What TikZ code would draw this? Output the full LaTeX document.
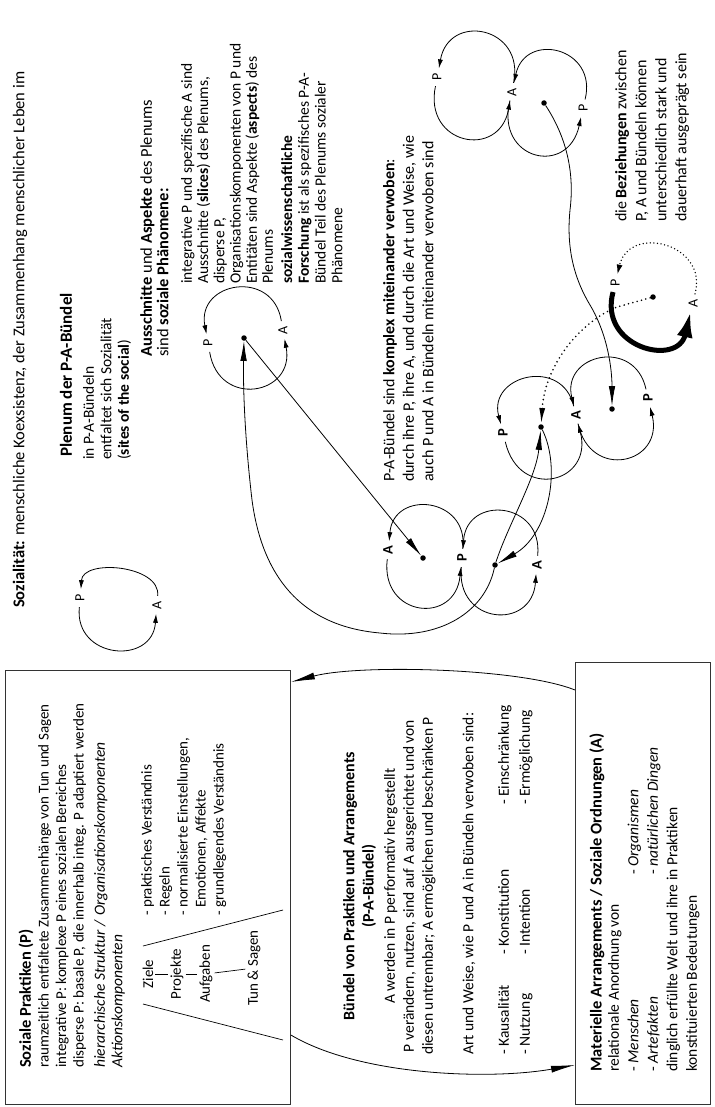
\documentclass[tikz,border=0pt]{standalone}
\usepackage{fontspec}
\setmainfont{Carlito}
\usetikzlibrary{arrows.meta,calc}
\newcommand\PAarcs[8]{%
  \begin{scope}[shift={(#1,#2)},rotate=#3]
    \draw[#7] (#4,-9) .. controls ({#4+1},{-1.33*#5}) and ({-#4-1},{-1.33*#5}) .. (-#4,-9);
    \draw[#8] (-#4,9) .. controls ({-#4-1},{1.33*#6}) and ({#4+1},{1.33*#6}) .. (#4,9);
  \end{scope}}
\begin{document}
\begin{tikzpicture}[x=1pt,y=-1pt,
  txt/.style={rotate=90,inner sep=0pt,align=left,font=\fontsize{15}{17.5}\selectfont},
  lab/.style={rotate=90,inner sep=0.5pt,font=\fontsize{14}{14}\selectfont},
  labb/.style={rotate=90,inner sep=0.5pt,font=\fontsize{14.5}{14}\selectfont\bfseries},
  loopar/.style={line width=0.8pt,-{Latex[length=9pt,width=5pt]}},
  dotar/.style={line width=1.5pt,line cap=round,dash pattern=on 0pt off 3.6pt,-{Latex[length=10pt,width=6pt]}},
  thickar/.style={line width=5pt,-{Latex[length=26pt,width=16pt]}},
  con/.style={line width=0.8pt,-{Latex[length=20pt,width=6.5pt]}},
  dotcon/.style={line width=1.8pt,line cap=round,dash pattern=on 0pt off 4.5pt,-{Latex[length=16pt,width=6pt]}},
  pdot/.style={circle,fill,inner sep=0pt,minimum size=5.5pt},
  boxst/.style={draw=black!80,line width=0.9pt,inner sep=0pt,anchor=north west}]
\useasboundingbox (0,0) rectangle (714,1107);

% ---------- top texts ----------
\node[txt,anchor=west,font=\fontsize{16.5}{18}\selectfont] (title) at (20,608)
  {\textbf{Sozialität:} menschliche Koexsistenz, der Zusammenhang menschlicher Leben im};
\node[txt,anchor=west,font=\fontsize{17}{18}\selectfont\bfseries] (plenum) at (66,457) {Plenum der P-A-Bündel};
\node[txt,anchor=north west,font=\fontsize{15.5}{17.5}\selectfont] (sites) at (83,460)
  {in P-A-Bündeln\\entfaltet sich Sozialität\\(\textbf{sites of the social})};
\node[txt,anchor=north west,font=\fontsize{16.5}{16.5}\selectfont] (aus) at (140,357)
  {\textbf{Ausschnitte} und \textbf{Aspekte} des Plenums\\sind \textbf{soziale Phänomene:}};
\node[txt,anchor=north west,font=\fontsize{15.5}{16.2}\selectfont] (aus2) at (181,284)
  {integrative P und spezifische A sind\\Ausschnitte (\textbf{slices}) des Plenums,\\disperse P,\\Organisationskomponenten von P und\\Entitäten sind Aspekte (\textbf{aspects}) des\\Plenums};
\node[txt,anchor=north west,font=\fontsize{15.5}{16.8}\selectfont] (forsch) at (281,284)
  {\textbf{sozialwissenschaftliche}\\\textbf{Forschung} ist als spezifisches P-A-\\Bündel Teil des Plenums sozialer\\Phänomene};
\node[txt,anchor=north west,font=\fontsize{16}{19.5}\selectfont] (komplex) at (383,482)
  {P-A-Bündel sind \textbf{komplex miteinander verwoben}:\\durch ihre P, ihre A, und durch die Art und Weise, wie\\auch P und A in Bündeln miteinander verwoben sind};
\node[txt,anchor=north west,font=\fontsize{16}{20}\selectfont] (bez) at (615,222)
  {die \textbf{Beziehungen} zwischen\\P, A und Bündeln können\\unterschiedlich stark und\\dauerhaft ausgeprägt sein};

% ---------- box 1 ----------
\node[boxst,minimum width=285pt,minimum height=434pt] (box1) at (5,670) {};
\node[txt,anchor=west,font=\fontsize{16.5}{18}\selectfont\bfseries] (b1t) at (26,1068) {Soziale Praktiken (P)};
\node[txt,anchor=north west] (b1a) at (38,1068)
  {raumzeitlich entfaltete Zusammenhänge von Tun und Sagen\\integrative P: komplexe P eines sozialen Bereiches\\disperse P: basale P, die innerhalb integ. P adaptiert werden};
\node[txt,anchor=north west,font=\fontsize{15.5}{17.5}\selectfont\itshape] (b1h) at (94,1068)
  {\makebox[152pt][l]{hierarchische Struktur /}Organisationskomponenten\\Aktionskomponenten};
\node[txt,anchor=north west,font=\fontsize{15}{18}\selectfont] (b1l) at (141,916)
  {- praktisches Verständnis\\- Regeln\\- normalisierte Einstellungen,\\\hphantom{- }Emotionen, Affekte\\- grundlegendes Verständnis};
\node[txt] (ziele) at (148,974) {Ziele};
\node[txt] (projekte) at (177,974) {Projekte};
\node[txt] (aufgaben) at (206,974) {Aufgaben};
\node[txt] (tun) at (254,968) {Tun \& Sagen};
\draw[line width=0.7pt,shorten <=2pt,shorten >=2pt] (ziele) -- (projekte);
\draw[line width=0.7pt,shorten <=2pt,shorten >=2pt] (projekte) -- (aufgaben);
\draw[line width=0.7pt,shorten <=2pt,shorten >=2pt] (aufgaben) -- (tun);
\draw[line width=0.7pt] (143,946) -- (283,910);
\draw[line width=0.7pt] (143,1004) -- (283,1040);

% ---------- box 3 ----------
\node[boxst,minimum width=135pt,minimum height=442pt] (box3) at (575,662) {};
\node[txt,anchor=west,font=\fontsize{16.5}{18}\selectfont\bfseries] (b3t) at (597,1072) {Materielle Arrangements / Soziale Ordnungen (A)};
\node[txt,anchor=north west,font=\fontsize{15.5}{19.5}\selectfont] (b3a) at (608,1072)
  {relationale Anordnung von\\\makebox[197pt][l]{- \textit{Menschen}}- \textit{Organismen}\\\makebox[197pt][l]{- \textit{Artefakten}}- \textit{natürlichen Dingen}\\dinglich erfüllte Welt und ihre in Praktiken\\konstituierten Bedeutungen};

% ---------- middle ----------
\node[txt,font=\fontsize{16}{18}\selectfont\bfseries] (mt) at (350,886) {Bündel von Praktiken und Arrangements};
\node[txt,font=\fontsize{16}{18}\selectfont\bfseries] (mp) at (369,886) {(P-A-Bündel)};
\node[txt,anchor=north,align=center,font=\fontsize{15.5}{19}\selectfont] (mpara) at (384,886)
  {A werden in P performativ hergestellt\\P verändern, nutzen, sind auf A ausgerichtet und von\\diesen untrennbar; A ermöglichen und beschränken P};
\node[txt,anchor=west,font=\fontsize{15.5}{19}\selectfont] (mart) at (469,1055) {Art und Weise, wie P und A in Bündeln verwoben sind:};
\node[txt,anchor=north west,font=\fontsize{15.5}{21}\selectfont] (mcols) at (498,1055)
  {\makebox[100pt][l]{- Kausalität}\makebox[150pt][l]{- Konstitution}- Einschränkung\\\makebox[100pt][l]{- Nutzung}\makebox[150pt][l]{- Intention}- Ermöglichung};

% ---------- lens connectors ----------
\draw[con,-{Latex[length=24pt,width=7pt]}] ([yshift=-28pt]box3.north west) .. controls (520,668) and (360,664) .. ([yshift=-12pt]box1.north east);
\draw[con,-{Latex[length=24pt,width=7pt]}] ([yshift=-365pt]box1.north east) .. controls (360,1076) and (490,1080) .. ([yshift=-403pt]box3.north west);

% ---------- loops ----------
\node[lab] (sP) at (80,598) {P};
\node[lab] (sA) at (157,605) {A};
\PAarcs{118.5}{601.5}{-5}{38.5}{30}{46}{loopar}{loopar}

\node[lab] (plP) at (208,343) {P};
\node[lab] (plA) at (283,330) {A};
\PAarcs{245.5}{336.5}{10}{38}{47}{50}{loopar}{loopar}

\node[labb] (bA1) at (388,550) {A};
\node[labb] (bP) at (462,558) {P};
\node[labb] (bA2) at (537,565) {A};
\PAarcs{425}{554}{-6}{37}{46}{51}{loopar}{loopar}
\PAarcs{499.5}{561.5}{-5}{37.5}{48}{50}{loopar}{loopar}

\node[labb] (uP1) at (503,433) {P};
\node[labb] (uA) at (576,415) {A};
\node[labb] (uP2) at (648,398) {P};
\PAarcs{539.5}{424}{14}{37.5}{45}{53}{loopar}{loopar}
\PAarcs{612}{406.5}{13}{37}{47}{51}{loopar}{loopar}

\node[lab] (urP1) at (437,77) {P};
\node[lab] (urA) at (512,92) {A};
\node[lab] (urP2) at (583,108) {P};
\PAarcs{474.5}{84.5}{-11}{38}{50}{52}{loopar}{loopar}
\PAarcs{547.5}{100}{-13}{36.5}{47}{53}{loopar}{loopar}

\node[lab] (thP) at (615,283) {P};
\node[lab] (thA) at (693,303) {A};
\PAarcs{654}{293}{-14}{40}{46}{50}{dotar}{thickar}

% ---------- dots ----------
\node[pdot] (dPL) at (244,338) {};
\node[pdot] (dB1) at (423,558) {};
\node[pdot] (dB2) at (495,565) {};
\node[pdot] (dU1) at (541,427) {};
\node[pdot] (dU2) at (612,409) {};
\node[pdot] (dUR) at (544,103) {};
\node[pdot] (dTH) at (653,297) {};

% ---------- connectors ----------
\draw[con] (dPL) -- (dB1);
\draw[con] (dB2) .. controls (485,612) and (440,640) .. (380,633) .. controls (300,626) and (262,575) .. (252,500) .. controls (245,440) and (243,390) .. (dPL);
\draw[con] (dB2) .. controls (508,525) and (536,478) .. (dU1);
\draw[con] (dU1) .. controls (562,470) and (548,535) .. (dB2);
\draw[dotcon] (dTH) -- (617,307) .. controls (580,322) and (545,365) .. (dU1);
\draw[con] (dUR) .. controls (565,135) and (575,170) .. (570,210) .. controls (566,250) and (575,280) .. (590,305) .. controls (608,335) and (612,370) .. (dU2);
\end{tikzpicture}
\end{document}
